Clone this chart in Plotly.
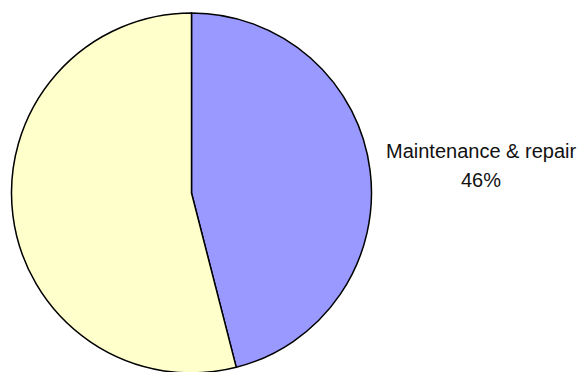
import plotly.graph_objects as go

labels = ["Maintenance & repair", "Other"]
values = [46, 54]
colors = ["#9999FF", "#FFFFCC"]
shown_labels = ["Maintenance & repair"]

# The page body has an 8px margin; the figure is sized so the window crops it like the reference.
W, H = 577, 372

fig = go.Figure(go.Pie(
    labels=labels,
    values=values,
    sort=False,
    direction="clockwise",
    rotation=0,
    marker=dict(colors=colors, line=dict(color="black", width=1.5)),
    textinfo="none",
    hoverinfo="label+percent",
    showlegend=False,
    domain=dict(x=[3.5 / W, 363.5 / W], y=[7 / H, 367 / H]),
))

total = sum(values)
for lab, val in zip(labels, values):
    if lab in shown_labels:
        pct = round(100 * val / total)
        fig.add_annotation(x=473 / W, y=1 - 143 / H, xref="paper", yref="paper",
                           text=lab, showarrow=False, xanchor="center", yanchor="middle",
                           font=dict(family="Liberation Sans, Arial", size=20, color="#111111"))
        fig.add_annotation(x=473 / W, y=1 - 172 / H, xref="paper", yref="paper",
                           text=f"{pct}%", showarrow=False, xanchor="center", yanchor="middle",
                           font=dict(family="Liberation Sans, Arial", size=20, color="#111111"))

fig.update_layout(
    width=W, height=H,
    margin=dict(l=0, r=0, t=0, b=0),
    paper_bgcolor="white",
    plot_bgcolor="white",
)

fig.write_html("out.html")
